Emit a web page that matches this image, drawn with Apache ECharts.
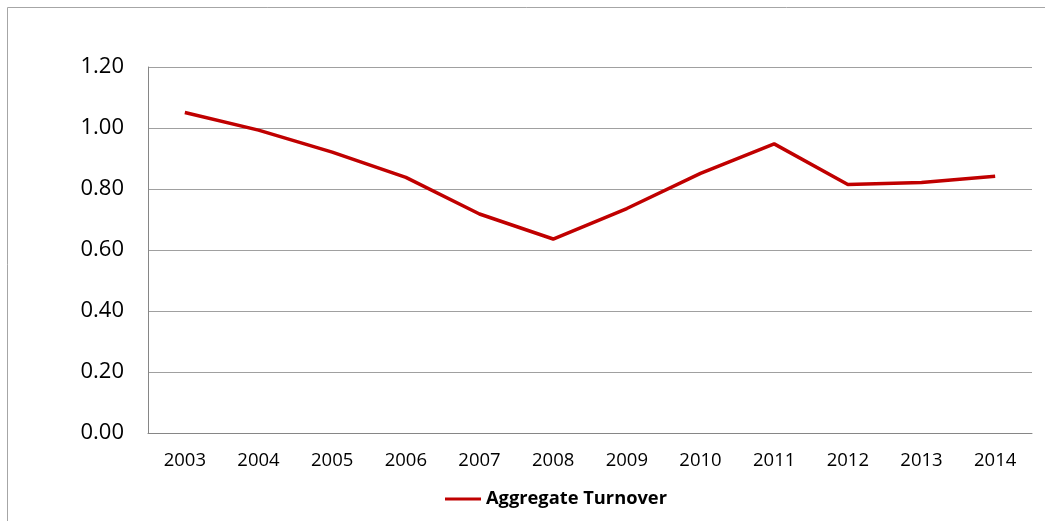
<!DOCTYPE html>
<html><head><meta charset="utf-8">
<script src="https://cdn.jsdelivr.net/npm/echarts@6/dist/echarts.min.js"></script>
<style>html,body{margin:0;padding:0;background:#fff}#c{width:1045px;height:521px}</style>
</head><body><div id="c"></div>
<script>
const categories = ['2003','2004','2005','2006','2007','2008','2009','2010','2011','2012','2013','2014'];
const turnover = [1.051, 0.993, 0.921, 0.838, 0.718, 0.636, 0.736, 0.851, 0.948, 0.815, 0.821, 0.842];
const seriesName = 'Aggregate Turnover';
const chart = echarts.init(document.getElementById('c'));
chart.setOption({
  animation: false,
  backgroundColor: '#fff',
  graphic: [{type:'rect', shape:{x:7.5,y:7.5,width:1100,height:600}, style:{fill:'none',stroke:'#a6a6a6',lineWidth:1}, silent:true}],
  grid: {left:148, right:13, top:67, bottom:88},
  legend: {top:485, left:440, itemWidth:36, itemHeight:3, itemGap:5,
    icon:'rect',
    textStyle:{fontFamily:'Open Sans', fontWeight:'bold', fontSize:18.3, color:'#000'},
    data:[seriesName]},
  xAxis: {type:'category', data:categories, boundaryGap:true,
    axisLine:{lineStyle:{color:'#868686', width:1}}, axisTick:{show:false},
    axisLabel:{color:'#000', fontFamily:'Open Sans', fontSize:18.5, margin:18}},
  yAxis: {type:'value', min:0, max:1.2, interval:0.2,
    axisLine:{show:true, lineStyle:{color:'#868686'}}, axisTick:{show:false},
    axisLabel:{color:'#000', fontFamily:'Open Sans', fontSize:22, margin:24, formatter:v=>v.toFixed(2)},
    splitLine:{lineStyle:{color:'#a0a0a0', width:1}}},
  series: [{name:seriesName, type:'line', data:turnover, symbol:'none',
    lineStyle:{color:'#c00000', width:3.5}, itemStyle:{color:'#c00000'}}]
});
</script></body></html>
